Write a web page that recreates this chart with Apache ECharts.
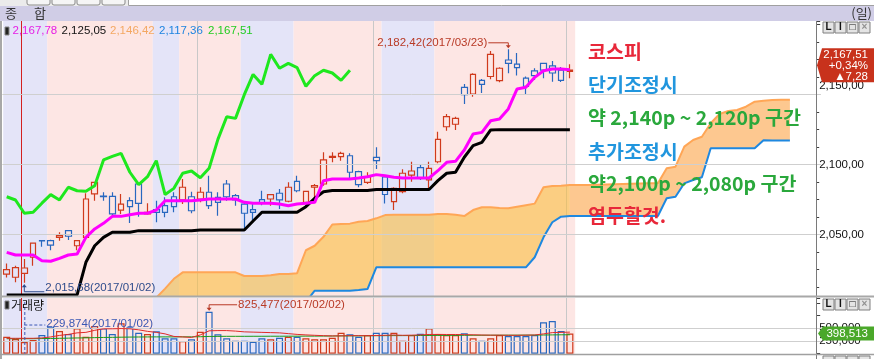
<!DOCTYPE html>
<html><head><meta charset="utf-8">
<script src="https://cdn.jsdelivr.net/npm/echarts/dist/echarts.min.js"></script>
<style>html,body{margin:0;padding:0;background:#fff;}#c{width:874px;height:359px;}</style>
</head><body><div id="c"></div>
<script>
// ---------------- data ----------------
const dates = ['2016/12/28','2016/12/29','2017/01/02','2017/01/03','2017/01/04','2017/01/05','2017/01/06','2017/01/09','2017/01/10','2017/01/11',
'2017/01/12','2017/01/13','2017/01/16','2017/01/17','2017/01/18','2017/01/19','2017/01/20','2017/01/23','2017/01/24','2017/01/25',
'2017/01/26','2017/01/31','2017/02/01','2017/02/02','2017/02/03','2017/02/06','2017/02/07','2017/02/08','2017/02/09','2017/02/10',
'2017/02/13','2017/02/14','2017/02/15','2017/02/16','2017/02/17','2017/02/20','2017/02/21','2017/02/22','2017/02/23','2017/02/24',
'2017/02/27','2017/02/28','2017/03/02','2017/03/03','2017/03/06','2017/03/07','2017/03/08','2017/03/09','2017/03/10','2017/03/13',
'2017/03/14','2017/03/15','2017/03/16','2017/03/17','2017/03/20','2017/03/21','2017/03/22','2017/03/23','2017/03/24','2017/03/27',
'2017/03/28','2017/03/29','2017/03/30','2017/03/31','2017/04/03'];
const opens = [2021.9,2019.6,2022.4,2033.9,2045.8,2045.7,2048.1,2052.9,2042.1,2048.1,
2079.1,2077.6,2077.4,2067.6,2074.3,2086.2,2064.8,2067.9,2070.7,2077.1,
2074.8,2077.1,2075.5,2080.3,2076.7,2086.2,2077.9,2071.9,2067.9,2075.0,
2075.5,2079.6,2073.9,2088.1,2073.1,2083.9,2086.2,2105.2,2105.7,2106.4,
2095.0,2087.4,2105.3,2091.2,2073.6,2080.7,2092.6,2097.9,2089.1,2102.1,
2127.1,2128.9,2155.3,2150.5,2160.2,2163.0,2160.0,2174.8,2171.8,2161.8,
2167.0,2172.4,2170.6,2167.6,2166.6];
const closes = [2025.0,2026.5,2026.2,2044.0,2045.6,2042.6,2049.3,2048.9,2045.7,2075.5,
2087.4,2077.2,2064.8,2071.9,2070.0,2072.4,2066.0,2066.0,2066.0,2070.0,
2083.9,2067.1,2080.3,2070.7,2073.1,2077.1,2074.8,2065.3,2066.0,2072.5,
2078.6,2074.8,2083.9,2081.4,2081.0,2085.0,2103.4,2105.9,2108.1,2094.6,
2085.7,2091.4,2102.9,2078.7,2083.1,2093.9,2095.5,2090.7,2097.4,2118.1,
2134.3,2133.1,2150.0,2164.5,2157.4,2178.8,2168.9,2172.4,2169.4,2156.0,
2163.6,2167.5,2165.5,2160.23,2167.51];
const lows = [2019.5,2016.0,2015.68,2027.9,2041.4,2038.9,2045.7,2046.2,2038.9,2046.9,
2074.3,2074.3,2062.4,2064.8,2058.4,2062.9,2064.3,2058.9,2062.4,2066.0,
2071.9,2065.3,2073.1,2068.4,2063.6,2074.3,2070.7,2052.9,2060.0,2071.0,
2070.7,2068.4,2073.1,2080.3,2071.9,2074.3,2085.0,2101.7,2102.9,2089.8,
2083.9,2086.2,2096.9,2072.2,2067.6,2079.6,2087.9,2089.1,2081.9,2101.0,
2124.3,2124.8,2143.4,2148.6,2151.2,2161.0,2158.9,2165.3,2163.8,2149.8,
2160.5,2161.7,2159.3,2159.0,2161.7];
const highs = [2029.5,2027.9,2032.6,2044.5,2046.0,2046.4,2051.7,2052.9,2045.7,2079.6,
2087.8,2080.3,2080.3,2079.1,2076.7,2086.2,2072.4,2074.3,2076.7,2080.3,
2089.8,2080.7,2083.9,2092.1,2080.3,2089.1,2079.1,2073.1,2073.1,2081.4,
2078.9,2082.6,2087.4,2092.1,2081.3,2086.2,2108.9,2108.9,2109.3,2108.1,
2095.7,2094.6,2112.4,2092.3,2083.9,2096.7,2102.1,2100.3,2102.1,2123.6,
2136.2,2134.3,2157.6,2165.3,2161.2,2181.3,2169.6,2182.42,2179.8,2163.0,
2168.9,2172.6,2174.1,2169.8,2171.7];
const volumes = [334000,289000,229874,270000,368000,532000,447000,388000,500000,334000,
545000,500000,388000,598000,520000,413000,388000,440000,303000,303000,
250000,283000,433000,825477,381000,303000,256000,256000,236000,303000,
283000,315000,334000,334000,303000,283000,283000,315000,413000,381000,
334000,368000,413000,413000,413000,256000,368000,394000,500000,388000,
368000,368000,401000,303000,256000,303000,368000,348000,348000,348000,
368000,618000,644000,447000,398513];
// Ichimoku lines
const conversion = [2037.4,2035.5,2035.5,2035.5,2031.4,2031.0,2033.1,2035.5,2036.2,2048.1,
2054.1,2058.1,2063.1,2063.1,2064.3,2065.3,2065.3,2067.6,2074.3,2074.3,
2074.3,2074.3,2074.8,2075.5,2075.5,2075.5,2075.5,2073.1,2072.4,2072.4,
2072.4,2071.9,2070.7,2071.9,2072.4,2073.1,2088.6,2089.8,2089.8,2089.8,
2090.5,2091.4,2092.9,2092.1,2091.0,2090.5,2090.5,2090.5,2090.5,2095.7,
2101.7,2102.4,2110.5,2121.9,2123.1,2131.4,2132.6,2139.8,2154.1,2155.3,
2162.4,2167.1,2168.4,2168.4,2167.78];
const baseLine = [2007.0,2007.0,2007.0,2007.0,2007.0,2007.0,2007.0,2007.0,2007.0,2030.3,
2042.1,2048.1,2051.7,2051.7,2051.7,2052.9,2052.9,2052.9,2052.9,2052.9,
2052.9,2052.9,2053.4,2053.4,2053.4,2053.4,2053.4,2053.4,2059.8,2066.0,
2066.0,2066.0,2066.0,2066.0,2070.0,2076.0,2080.7,2081.5,2081.5,2081.5,
2081.5,2081.5,2082.3,2082.3,2082.3,2082.3,2082.3,2082.3,2082.3,2088.6,
2093.9,2094.6,2105.3,2113.6,2116.0,2124.8,2125.05,2125.05,2125.05,2125.05,
2125.05,2125.05,2125.05,2125.05,2125.05];
const span1 = [null,null,null,null,null,null,null,null,null,null,
null,null,null,null,null,null,1996,2005,2011.5,2018.5,
2023.1,2023.1,2023.1,2023.1,2023.1,2023.1,2023.1,2020.5,2020.5,2020.5,
2021.0,2021.9,2021.9,2022.5,2038.9,2042.1,2048.5,2057.3,2057.6,2057.9,
2059.3,2059.8,2061.7,2064.0,2064.3,2064.3,2064.3,2064.3,2064.3,2064.8,
2064.8,2064.3,2063.3,2067.6,2069.6,2069.6,2069.0,2068.9,2070.0,2071.1,
2072.2,2083.9,2084.8,2085.0,2085.5,2085.5,2085.5,2085.6,2085.8,2086.0,
2086.2,2086.4,2086.6,2086.7,2086.7,2097.4,2098.6,2112.9,2117.6,2120.0,
2129.6,2136.2,2138.4,2139.1,2141.4,2145.0,2145.7,2146.2,2146.4,2146.42];
const span2 = [null,null,null,null,null,null,null,null,null,null,
null,null,null,null,null,null,null,null,null,null,
null,null,null,null,null,null,null,null,null,null,
null,null,null,null,2002,2010.0,2010.0,2010.0,2010.0,2010.0,
2010.5,2011.2,2026.7,2026.7,2026.7,2026.7,2026.7,2026.7,2026.7,2026.7,
2026.7,2026.7,2026.7,2026.7,2026.7,2026.7,2026.7,2026.7,2026.7,2026.7,
2033.9,2048.1,2058.9,2062.9,2063.4,2063.4,2063.4,2063.4,2063.4,2063.4,
2063.4,2063.4,2063.4,2063.4,2063.4,2076.0,2077.1,2086.7,2089.1,2091.0,
2111.7,2111.7,2111.7,2111.7,2111.7,2111.7,2117.4,2117.36,2117.36,2117.36];
const LAG = 25;
// volume moving averages
const volMaShort = [303000,303000,303000,303000,310000,330000,360000,380000,410000,420000,
460000,490000,490000,495000,490000,470000,440000,420000,390000,340000,
330000,320000,370000,450000,455000,455000,445000,430000,425000,420000,
415000,410000,395000,380000,370000,362000,355000,350000,352000,355000,
355000,355000,358000,362000,368000,362000,365000,370000,378000,380000,
378000,378000,375000,372000,368000,365000,365000,362000,362000,365000,
368000,390000,415000,420000,425000];
const volMaLong = [295000,295000,295000,295000,298000,300000,303000,306000,310000,312000,
316000,320000,322000,325000,327000,329000,330000,331000,331000,331000,
332000,332000,334000,340000,341000,342000,342000,342000,343000,343000,
344000,344000,345000,345000,346000,346000,347000,348000,350000,351000,
352000,353000,354000,355000,356000,356000,357000,358000,359000,360000,
361000,362000,362000,363000,363000,364000,364000,365000,365000,366000,
366000,368000,370000,372000,373000];
// background shading periods (bar index ranges) and month/year lines
const bandStart = [0, 5, 17, 20, 27, 33, 43, 49];
const bandEnd   = [4, 16, 19, 26, 32, 42, 48, 64];
const bandKind  = [0, 1, 0, 1, 0, 1, 0, 1]; // 0 = blue, 1 = pink
const monthLines = [22, 42, 64];
const yearLines = [2];
const priceLabels = [2050, 2100, 2150];
const volLabels = [250000, 500000];
const highIdx = 57, lowIdx = 2, volPeakIdx = 23, volLowIdx = 2;

// ---------------- layout/style ----------------
const SLOTS = 93;
const GL = 2.3, GW = 818.4;
const P_TOP = 21, P_H = 275;
const V_TOP = 298, V_H = 55.7;
const P_MIN = 2006.21, P_MAX = 2202.64;
const V_MAX = 1096457;
const RED = '#d03a1c', BLUE = '#2868c0';
const BAND_BLUE = '#e4e4f8', BAND_PINK = '#fde6e4';
const NUMFONT = 'Liberation Sans, Arial, sans-serif';
const KFONT = '"Noto Sans CJK KR", sans-serif';

const cats = [];
for (let i = 0; i < SLOTS; i++) cats.push(i < dates.length ? dates[i] : 'f' + i);

function fmt2(v) { const s = v.toFixed(2).split('.'); return s[0].replace(/\B(?=(\d{3})+(?!\d))/g, ',') + ',' + s[1]; }
function fmt0(v) { return String(Math.round(v)).replace(/\B(?=(\d{3})+(?!\d))/g, ','); }

const bandData = bandStart.map((s, i) => [s, bandEnd[i], bandKind[i]]);
function bandRender(params, api) {
  const cs = params.coordSys;
  const w = api.size([1, 0])[0];
  const x0 = api.coord([api.value(0), P_MIN + 1])[0] - w * 0.4;
  const x1 = api.coord([api.value(1), P_MIN + 1])[0] + w * 0.6;
  return { type: 'rect', shape: { x: x0, y: cs.y, width: x1 - x0, height: cs.height },
    style: { fill: api.value(2) ? BAND_PINK : BAND_BLUE } };
}
const vlineData = monthLines.map(i => [i, 0]).concat(yearLines.map(i => [i, 1]));
function vlineRender(params, api) {
  const cs = params.coordSys;
  const w = api.size([1, 0])[0];
  const x = Math.round(api.coord([api.value(0), P_MIN + 1])[0] - w * 0.4) + 0.5;
  const yr = api.value(1) === 1;
  return { type: 'line', shape: { x1: x, y1: cs.y, x2: x, y2: cs.y + cs.height },
    style: { stroke: yr ? '#d42020' : '#c8c8c8', lineWidth: 1 } };
}

const lastBar = dates.length - 1;
const cloudLow = span1.map((v, i) => v == null ? null : (span2[i] == null ? 1950 : span2[i]));
const cloudDiff = span1.map((v, i) => v == null ? null : v - cloudLow[i]);
const cloudLowA = cloudLow.map((v, i) => i <= lastBar ? v : null);
const cloudDiffA = cloudDiff.map((v, i) => i <= lastBar ? v : null);
const cloudLowB = cloudLow.map((v, i) => i >= lastBar ? v : null);
const cloudDiffB = cloudDiff.map((v, i) => i >= lastBar ? v : null);
const lagging = closes.slice(LAG);

const candleData = opens.map((o, i) => [o, closes[i], lows[i], highs[i]]);
const volData = volumes.map((v, i) => ({ value: v, itemStyle: { borderColor: closes[i] >= opens[i] ? RED : BLUE } }));

const lineBase = { type: 'line', symbol: 'none', silent: true, smooth: false, animation: false };

const option = {
  animation: false,
  backgroundColor: '#ffffff',
  grid: [
    { left: GL, top: P_TOP, width: GW, height: P_H },
    { left: GL, top: V_TOP, width: GW, height: V_H }
  ],
  xAxis: [
    { type: 'category', gridIndex: 0, data: cats, boundaryGap: true, axisLine: { show: false }, axisTick: { show: false }, axisLabel: { show: false }, splitLine: { show: false } },
    { type: 'category', gridIndex: 1, data: cats, boundaryGap: true, axisLine: { show: false }, axisTick: { show: false }, axisLabel: { show: false }, splitLine: { show: false } }
  ],
  yAxis: [
    { type: 'value', gridIndex: 0, position: 'right', offset: -4.5, min: P_MIN, max: P_MAX, splitNumber: 4, scale: true,
      axisLine: { show: false }, splitLine: { show: false },
      axisTick: { show: true, length: 4, lineStyle: { color: '#404040' } },
      minorTick: { show: true, splitNumber: 4, length: 3, lineStyle: { color: '#404040' } },
      axisLabel: { margin: 3, color: '#111', fontFamily: NUMFONT, fontSize: 11.5,
        formatter: v => priceLabels.indexOf(Math.round(v * 100) / 100) >= 0 ? (v === 2150 ? '{u|' + fmt2(v) + '}' : fmt2(v)) : '',
        rich: { u: { padding: [0, 0, 18, 0], fontFamily: NUMFONT, fontSize: 11.5, color: '#111' } } } },
    { type: 'value', gridIndex: 1, position: 'right', offset: -4.5, min: 0, max: V_MAX, interval: 250000,
      axisLine: { show: false }, splitLine: { show: false },
      axisTick: { show: true, length: 4, lineStyle: { color: '#404040' } },
      axisLabel: { margin: 3, color: '#111', fontFamily: NUMFONT, fontSize: 11.5,
        formatter: v => volLabels.indexOf(v) >= 0 ? fmt0(v) : '' } }
  ],
  series: [
    { type: 'custom', xAxisIndex: 0, yAxisIndex: 0, data: bandData, renderItem: bandRender, silent: true, z: 0, encode: { x: 0, y: 2 } },
    { type: 'custom', xAxisIndex: 1, yAxisIndex: 1, data: bandData, renderItem: bandRender, silent: true, z: 0, encode: { x: 0, y: 2 } },
    { type: 'custom', xAxisIndex: 0, yAxisIndex: 0, data: vlineData, renderItem: vlineRender, silent: true, z: 1, encode: { x: 0, y: 1 } },
    { type: 'custom', xAxisIndex: 1, yAxisIndex: 1, data: vlineData, renderItem: vlineRender, silent: true, z: 1, encode: { x: 0, y: 1 } },
    Object.assign({}, lineBase, { xAxisIndex: 0, yAxisIndex: 0, data: cloudLowA, stack: 'cloudA', lineStyle: { opacity: 0 }, z: 1,
      markLine: { silent: true, symbol: 'none', label: { show: false }, lineStyle: { color: '#cfcfcf', type: 'solid', width: 1 },
        data: priceLabels.map(v => ({ yAxis: v })) } }),
    Object.assign({}, lineBase, { xAxisIndex: 0, yAxisIndex: 0, data: cloudDiffA, stack: 'cloudA', lineStyle: { opacity: 0 }, z: 2,
      areaStyle: { color: 'rgba(250,188,58,0.58)', opacity: 1 } }),
    Object.assign({}, lineBase, { xAxisIndex: 0, yAxisIndex: 0, data: cloudLowB, stack: 'cloudB', lineStyle: { opacity: 0 }, z: 1 }),
    Object.assign({}, lineBase, { xAxisIndex: 0, yAxisIndex: 0, data: cloudDiffB, stack: 'cloudB', lineStyle: { opacity: 0 }, z: 2,
      areaStyle: { color: '#fdc890', opacity: 1 } }),
    Object.assign({}, lineBase, { xAxisIndex: 0, yAxisIndex: 0, data: span2, lineStyle: { color: '#1e88e0', width: 2 }, z: 3 }),
    Object.assign({}, lineBase, { xAxisIndex: 0, yAxisIndex: 0, data: span1, lineStyle: { color: '#ffa656', width: 2 }, z: 3 }),
    { type: 'candlestick', xAxisIndex: 0, yAxisIndex: 0, data: candleData, barWidth: 6, silent: true, z: 4,
      itemStyle: { color: 'rgba(0,0,0,0)', color0: 'rgba(0,0,0,0)', borderColor: RED, borderColor0: BLUE, borderWidth: 1.2 } },
    Object.assign({}, lineBase, { xAxisIndex: 0, yAxisIndex: 0, data: baseLine, lineStyle: { color: '#000000', width: 3 }, z: 5 }),
    Object.assign({}, lineBase, { xAxisIndex: 0, yAxisIndex: 0, data: conversion, lineStyle: { color: '#ff00ff', width: 3 }, z: 6 }),
    Object.assign({}, lineBase, { xAxisIndex: 0, yAxisIndex: 0, data: lagging, lineStyle: { color: '#1ee81e', width: 3 }, z: 6 }),
    { type: 'bar', xAxisIndex: 1, yAxisIndex: 1, data: volData, barWidth: 7, silent: true, z: 4,
      itemStyle: { color: 'rgba(0,0,0,0)', borderWidth: 1.2 },
      markLine: { silent: true, symbol: 'none', label: { show: false }, lineStyle: { color: '#cfcfcf', type: 'solid', width: 1 },
        data: volLabels.map(v => ({ yAxis: v })) } },
    Object.assign({}, lineBase, { xAxisIndex: 1, yAxisIndex: 1, data: volMaLong, lineStyle: { color: '#1a9a1a', width: 1 }, z: 5 }),
    Object.assign({}, lineBase, { xAxisIndex: 1, yAxisIndex: 1, data: volMaShort, lineStyle: { color: '#e02a2a', width: 1 }, z: 6 })
  ]
};

const chart = echarts.init(document.getElementById('c'), null, { renderer: 'canvas' });
chart.setOption(option);

// ---------------- decorations & annotations ----------------
function px(grid, idx, val) { return chart.convertToPixel({ xAxisIndex: grid, yAxisIndex: grid }, [idx, val]); }
function buttons(x, y, clipH) {
  const g = [];
  const glyphs = ['L', 'I', '□', '×'];
  for (let k = 0; k < 4; k++) {
    g.push({ type: 'rect', shape: { x: x + k * 12, y: y, width: 11, height: clipH || 11 },
      style: { fill: '#e4e4e4', stroke: '#808080', lineWidth: 1 }, z: 50 });
    if (!clipH) g.push({ type: 'text', x: x + k * 12 + 5.5, y: y + 5.5,
      style: { text: glyphs[k], fill: k === 3 ? '#909090' : '#111', font: 'bold 10px ' + NUMFONT, align: 'center', verticalAlign: 'middle' }, z: 51 });
  }
  return g;
}

const g = [];
// top strip
g.push({ type: 'rect', shape: { x: 0, y: 0, width: 874, height: 6 }, style: { fill: '#ebebeb' }, z: 40 });
[27, 52, 77, 102].forEach(x => g.push({ type: 'rect', shape: { x: x, y: -3, width: 23, height: 8, r: 2 }, style: { fill: '#f5f5f5', stroke: '#8a8a8a' }, z: 41 }));
g.push({ type: 'rect', shape: { x: 128.5, y: -2, width: 750, height: 7.5 }, style: { fill: '#ffffff', stroke: '#a0a0a0' }, z: 41 });
// title bar
g.push({ type: 'rect', shape: { x: 0, y: 6, width: 874, height: 15 }, style: { fill: '#d0cde6' }, z: 40 });
g.push({ type: 'text', x: 5, y: 13.5, style: { text: '종', fill: '#333', font: '13px ' + KFONT, verticalAlign: 'middle' }, z: 41 });
g.push({ type: 'text', x: 34, y: 13.5, style: { text: '합', fill: '#333', font: '13px ' + KFONT, verticalAlign: 'middle' }, z: 41 });
g.push({ type: 'text', x: 872, y: 13.5, style: { text: '(일)', fill: '#333', font: '13px ' + KFONT, align: 'right', verticalAlign: 'middle' }, z: 41 });
// borders
g.push({ type: 'rect', shape: { x: 0, y: 21, width: 2, height: 338 }, style: { fill: '#a8a8a8' }, z: 40 });
g.push({ type: 'line', shape: { x1: 816.5, y1: 21, x2: 816.5, y2: 359 }, style: { stroke: '#7a7a7a', lineWidth: 1 }, z: 40 });
g.push({ type: 'rect', shape: { x: 0, y: 295.5, width: 874, height: 2 }, style: { fill: '#a8a8a8' }, z: 40 });
g.push({ type: 'line', shape: { x1: 0, y1: 354.5, x2: 874, y2: 354.5 }, style: { stroke: '#a0a0a0', lineWidth: 1.5 }, z: 40 });
// legend row
g.push({ type: 'rect', shape: { x: 5, y: 27, width: 4, height: 8 }, style: { fill: '#222', stroke: '#888' }, z: 41 });
const legVals = [conversion[conversion.length - 1], baseLine[baseLine.length - 1], span1[span1.length - 1], span2[span2.length - 1], lagging[lagging.length - 1]];
const legCols = ['#e61ee6', '#111111', '#f4a862', '#1e84e0', '#22cc22'];
const legX = [12.5, 61.5, 110, 159, 208];
legVals.forEach((v, k) => g.push({ type: 'text', x: legX[k], y: 31, style: { text: fmt2(v), fill: legCols[k], font: '11.5px ' + NUMFONT, verticalAlign: 'middle' }, z: 41 }));
// Korean comment block
const notes = [['코스피', '#e8283a'], ['단기조정시', '#2196de'], ['약 2,140p ~ 2,120p 구간', '#2aa83c'], ['추가조정시', '#2196de'], ['약2,100p ~ 2,080p 구간', '#2aa83c'], ['염두할것.', '#e8283a']];
const noteY = [52, 85, 118, 151.5, 184, 216];
notes.forEach((n, k) => g.push({ type: 'text', x: 588, y: noteY[k], style: { text: n[0], fill: n[1], font: 'bold 19.5px ' + KFONT, verticalAlign: 'middle' }, z: 45 }));
// window buttons
buttons(823, 22).forEach(e => g.push(e));
buttons(823, 299).forEach(e => g.push(e));
buttons(823, 356, 5).forEach(e => g.push(e));
// price tag
const pc = px(0, lastBar, closes[lastBar]);
const chg = closes[lastBar] - closes[lastBar - 1];
const ty = pc[1] - 5;
g.push({ type: 'polygon', shape: { points: [[817, ty], [822, ty - 17], [874, ty - 17], [874, ty + 17], [822, ty + 17]] }, style: { fill: '#c8321c' }, z: 45 });
g.push({ type: 'text', x: 868, y: ty - 10, style: { text: fmt2(closes[lastBar]), fill: '#fff', font: '11.5px ' + NUMFONT, align: 'right', verticalAlign: 'middle' }, z: 46 });
g.push({ type: 'text', x: 868, y: ty + 1, style: { text: '+' + (chg / closes[lastBar - 1] * 100).toFixed(2).replace('.', ',') + '%', fill: '#fff', font: '11.5px ' + NUMFONT, align: 'right', verticalAlign: 'middle' }, z: 46 });
g.push({ type: 'text', x: 868, y: ty + 12, style: { text: '▲' + chg.toFixed(2).replace('.', ','), fill: '#fff', font: '11.5px ' + NUMFONT, align: 'right', verticalAlign: 'middle' }, z: 46 });
// volume tag
const pv = px(1, lastBar, volumes[lastBar]);
g.push({ type: 'polygon', shape: { points: [[818, pv[1]], [823, pv[1] - 7], [874, pv[1] - 7], [874, pv[1] + 7], [823, pv[1] + 7]] }, style: { fill: '#4aa82a' }, z: 45 });
g.push({ type: 'text', x: 868, y: pv[1], style: { text: fmt0(volumes[lastBar]), fill: '#fff', font: '11.5px ' + NUMFONT, align: 'right', verticalAlign: 'middle' }, z: 46 });
// high annotation
const ph = px(0, highIdx, highs[highIdx]);
const AC = '#b83a26';
g.push({ type: 'polyline', shape: { points: [[ph[0] - 20, ph[1] - 6.5], [ph[0], ph[1] - 6.5], [ph[0], ph[1] - 3]] }, style: { stroke: AC, lineWidth: 1 }, z: 30 });
g.push({ type: 'polygon', shape: { points: [[ph[0] - 2.5, ph[1] - 4], [ph[0] + 2.5, ph[1] - 4], [ph[0], ph[1] - 1]] }, style: { fill: AC }, z: 30 });
g.push({ type: 'text', x: ph[0] - 21, y: ph[1] - 6.5, style: { text: fmt2(highs[highIdx]) + '(' + dates[highIdx] + ')', fill: AC, font: '11.5px ' + NUMFONT, align: 'right', verticalAlign: 'middle' }, z: 30 });
// low annotation
const pl = px(0, lowIdx, lows[lowIdx]);
const LC = '#2e4c8c';
g.push({ type: 'polyline', shape: { points: [[pl[0], pl[1] + 2], [pl[0], pl[1] + 9], [pl[0] + 20, pl[1] + 9]] }, style: { stroke: LC, lineWidth: 1 }, z: 30 });
g.push({ type: 'polygon', shape: { points: [[pl[0] - 2.5, pl[1] + 4.5], [pl[0] + 2.5, pl[1] + 4.5], [pl[0], pl[1] + 1.5]] }, style: { fill: LC }, z: 30 });
g.push({ type: 'text', x: pl[0] + 21, y: pl[1] + 5.5, style: { text: fmt2(lows[lowIdx]) + '(' + dates[lowIdx] + ')', fill: LC, font: '11.5px ' + NUMFONT, verticalAlign: 'middle' }, z: 30 });
// volume peak annotation
const pp = px(1, volPeakIdx, volumes[volPeakIdx]);
g.push({ type: 'polyline', shape: { points: [[pp[0] + 28, pp[1] - 7], [pp[0], pp[1] - 7], [pp[0], pp[1] - 3]] }, style: { stroke: AC, lineWidth: 1 }, z: 30 });
g.push({ type: 'polygon', shape: { points: [[pp[0] - 2.5, pp[1] - 4], [pp[0] + 2.5, pp[1] - 4], [pp[0], pp[1] - 1]] }, style: { fill: AC }, z: 30 });
g.push({ type: 'text', x: pp[0] + 29, y: pp[1] - 6.5, style: { text: fmt0(volumes[volPeakIdx]) + '(' + dates[volPeakIdx] + ')', fill: AC, font: '11.5px ' + NUMFONT, verticalAlign: 'middle' }, z: 30 });
// volume low annotation
const pq = px(1, volLowIdx, volumes[volLowIdx]);
const VC = '#3a58b4';
g.push({ type: 'line', shape: { x1: pq[0] + 0.5, y1: V_TOP + 4, x2: pq[0] + 0.5, y2: V_TOP + V_H }, style: { stroke: VC, lineWidth: 1, lineDash: [3, 2] }, z: 30 });
g.push({ type: 'line', shape: { x1: pq[0], y1: pq[1] - 17, x2: pq[0] + 21, y2: pq[1] - 17 }, style: { stroke: VC, lineWidth: 1, lineDash: [3, 2] }, z: 30 });
g.push({ type: 'text', x: pq[0] + 22, y: pq[1] - 18.5, style: { text: fmt0(volumes[volLowIdx]) + '(' + dates[volLowIdx] + ')', fill: VC, font: '11.5px ' + NUMFONT, verticalAlign: 'middle' }, z: 30 });
// volume panel label
g.push({ type: 'rect', shape: { x: 5, y: 301, width: 4, height: 8 }, style: { fill: '#222', stroke: '#888' }, z: 41 });
g.push({ type: 'text', x: 11, y: 305, style: { text: '거래량', fill: '#111', font: '12px ' + KFONT, verticalAlign: 'middle' }, z: 41 });

chart.setOption({ graphic: { elements: g } });
</script></body></html>
